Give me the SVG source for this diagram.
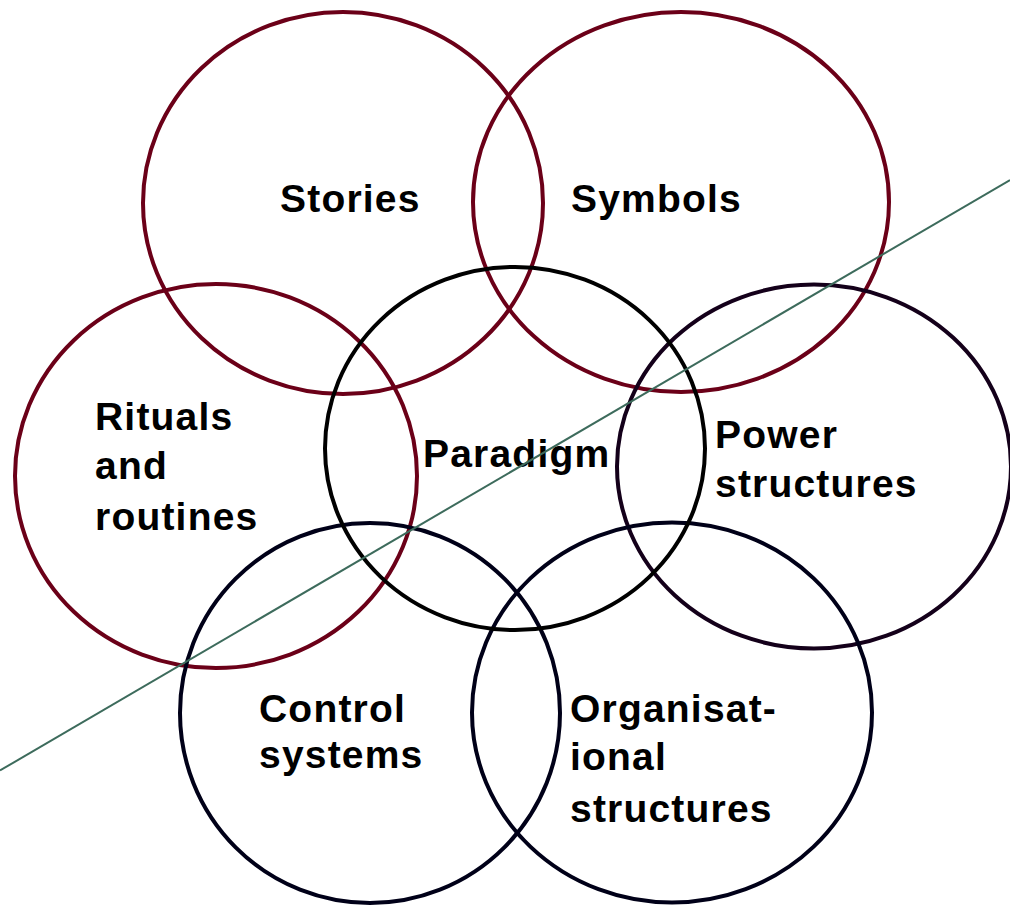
<svg xmlns="http://www.w3.org/2000/svg" width="1010" height="907" viewBox="0 0 1010 907">
<style>
.c{fill:none;stroke-width:4}
.red{stroke:#6b0018}
.blk{stroke:#000}
.pur{stroke:#14001a}
.nav{stroke:#000018}
text{font-family:"Liberation Sans",Arial,sans-serif;font-weight:bold;font-size:39px;letter-spacing:1.2px;fill:#000}
</style>
<rect width="1010" height="907" fill="#fff"/>
<g id="stories"><ellipse class="c red" cx="343" cy="203" rx="200" ry="191"/><text x="280" y="212">Stories</text></g>
<g id="symbols"><ellipse class="c red" cx="681" cy="202" rx="208" ry="190"/><text x="571" y="212">Symbols</text></g>
<g id="rituals"><ellipse class="c red" cx="216" cy="476" rx="201" ry="192"/><text x="95" y="430">Rituals</text><text x="95" y="479">and</text><text x="95" y="530">routines</text></g>
<g id="power"><ellipse class="c pur" cx="814" cy="466.5" rx="197" ry="182"/><text x="715" y="448">Power</text><text x="715" y="497">structures</text></g>
<g id="control"><ellipse class="c nav" cx="370" cy="713" rx="190" ry="190"/><text x="259" y="722">Control</text><text x="259" y="768">systems</text></g>
<g id="organisational"><ellipse class="c nav" cx="672" cy="712.5" rx="200" ry="190"/><text x="570" y="722">Organisat-</text><text x="570" y="770">ional</text><text x="570" y="822">structures</text></g>
<g id="paradigm"><ellipse class="c blk" cx="515" cy="448.5" rx="190" ry="181.5"/><text x="423" y="467">Paradigm</text></g>
<g id="connectors"><line x1="0" y1="770.5" x2="1010" y2="180" stroke="#3d6b5c" stroke-width="2"/></g>
</svg>
